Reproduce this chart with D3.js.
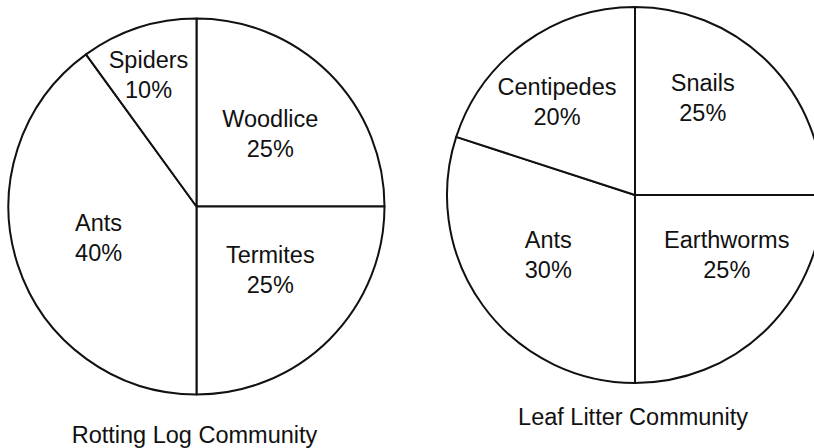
<!DOCTYPE html>
<html>
<head>
<meta charset="utf-8">
<script src="https://cdn.jsdelivr.net/npm/d3@7"></script>
<style>
  body { margin: 0; background: #fff; }
  text { font-family: "Liberation Sans", Arial, sans-serif; fill: #111; }
</style>
</head>
<body>
<script>
// chart data
const logCategories = ["Woodlice", "Termites", "Ants", "Spiders"];
const logValues = [25, 25, 40, 10];
const litterCategories = ["Snails", "Earthworms", "Ants", "Centipedes"];
const litterValues = [25, 25, 30, 20];
const titles = ["Rotting Log Community", "Leaf Litter Community"];

const w = 814, h = 448;
const r = 188;

const svg = d3.select("body").append("svg")
  .attr("width", w)
  .attr("height", h);

// layout of the two pies (nudge = small label shifts from the centroid)
const charts = [
  { cats: logCategories, vals: logValues, title: titles[0], cx: 196.5, cy: 206.5, titleGap: 48,
    nudge: [[-2, 3], [-2, -12], [4, -2], [-5, 1]] },
  { cats: litterCategories, vals: litterValues, title: titles[1], cx: 635, cy: 195, titleGap: 42,
    nudge: [[-8, -21], [16, -16], [0, -3], [-15, -6]] }
];

const pie = d3.pie().sort(null).startAngle(0).endAngle(2 * Math.PI);
const arc = d3.arc().innerRadius(0).outerRadius(r);

charts.forEach(c => {
  const g = svg.append("g").attr("transform", `translate(${c.cx},${c.cy})`);
  const total = d3.sum(c.vals);
  const slices = pie(c.vals);

  g.selectAll("path")
    .data(slices)
    .enter()
    .append("path")
    .attr("d", arc)
    .attr("fill", "#fff")
    .attr("stroke", "#111")
    .attr("stroke-width", 2)
    .attr("stroke-linejoin", "round");

  // labels: small slices pushed out a bit further
  const labels = g.selectAll("text.lbl")
    .data(slices)
    .enter()
    .append("text")
    .attr("class", "lbl")
    .attr("text-anchor", "middle")
    .attr("font-size", "23.5px")
    .attr("transform", (d, i) => {
      const k = d.data / total <= 0.1 ? 0.74 : 0.57;
      const p = d3.arc().innerRadius(r * k).outerRadius(r * k).centroid(d);
      return `translate(${p[0] + c.nudge[i][0]},${p[1] + c.nudge[i][1]})`;
    });

  labels.append("tspan")
    .attr("x", 0)
    .attr("y", -7)
    .text((d, i) => c.cats[i]);

  labels.append("tspan")
    .attr("x", 0)
    .attr("y", 23)
    .text(d => d.data + "%");

  svg.append("text")
    .attr("x", c.cx - 2)
    .attr("y", c.cy + r + c.titleGap)
    .attr("text-anchor", "middle")
    .attr("font-size", "23.5px")
    .text(c.title);
});
</script>
</body>
</html>
